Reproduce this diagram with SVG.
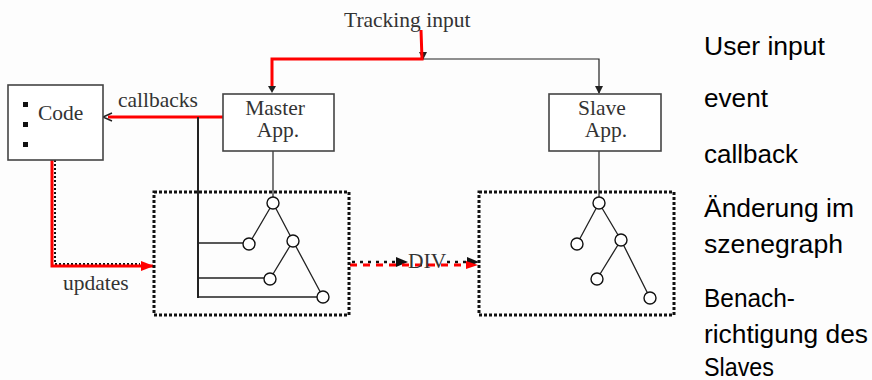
<svg xmlns="http://www.w3.org/2000/svg" width="872" height="380" viewBox="0 0 872 380">
<style>
.ser{font-family:"Liberation Serif","Times New Roman",serif;font-size:21.5px;fill:#333}
.san{font-family:"Liberation Sans",Arial,sans-serif;font-size:25px;fill:#000}
.box{fill:#fff;stroke:#444;stroke-width:1.6}
.dot{fill:none;stroke:#111;stroke-width:3;stroke-dasharray:3 2}
.red{fill:none;stroke:#f00;stroke-width:3}
.blk{fill:none;stroke:#222;stroke-width:1.2}
.thk{fill:none;stroke:#222;stroke-width:2}
.nd{fill:#fff;stroke:#111;stroke-width:1.4}
.tr{fill:none;stroke:#222;stroke-width:1.3}
</style>
<defs>
<marker id="ab" markerWidth="8" markerHeight="8" refX="7" refY="4" orient="auto" markerUnits="userSpaceOnUse"><path d="M0,0 L8,4 L0,8 Z" fill="#222"/></marker>
<marker id="ar" markerWidth="13" markerHeight="10" refX="12" refY="5" orient="auto" markerUnits="userSpaceOnUse"><path d="M0,0 L13,5 L0,10 Z" fill="#f00"/></marker>
</defs>
<rect width="872" height="380" fill="#fdfdfd"/>

<g id="connectors">
  <path class="blk" d="M423,59 H599 V93" marker-end="url(#ab)"/>
  <path class="blk" d="M423,52 V59" marker-end="url(#ab)"/>
  <path class="red" d="M421,30 L422,59 H272 V88"/>
  <path d="M268,86 L276,86 L272,93 Z" fill="#222"/>
  <path class="red" d="M223,117 H108"/>
  <path d="M112,113 L103,117 L112,121" fill="none" stroke="#222" stroke-width="1.5"/>
  <path class="thk" d="M198,117 V298"/>
  <path class="tr" d="M198,243 H243 M198,278 H264 M198,297 H317"/>
  <path class="blk" d="M273,151 V197"/>
  <path class="blk" d="M599,151 V197"/>
  <path fill="none" stroke="#111" stroke-width="2" stroke-dasharray="2 2" d="M55,160 V264 H140"/>
  <path class="red" d="M52,160 V266 H153" marker-end="url(#ar)"/>
  <path fill="none" stroke="#111" stroke-width="2.5" stroke-dasharray="3 5" d="M352,262 H398"/>
  <path d="M396,257 L408,262 L396,267 Z" fill="#111"/>
  <path fill="none" stroke="#111" stroke-width="2.5" stroke-dasharray="3 5" d="M447,262 H470"/>
  <path d="M467,257 L479,262 L467,267 Z" fill="#111"/>
  <path fill="none" stroke="#f00" stroke-width="3" stroke-dasharray="7 6" d="M350,265 H468"/>
  <path d="M466,261 L478,265 L466,269 Z" fill="#f00"/>
  <path class="tr" d="M273,203 L249,244 M273,203 L293,241 M293,241 L270,279 M293,241 L323,297"/>
  <path class="tr" d="M599,203 L577,244 M599,203 L621,240 M621,240 L597,279 M621,240 L650,298"/>
</g>

<g id="tracking-label"><text class="ser" x="344" y="27">Tracking input</text></g>
<g id="callbacks-label"><text class="ser" x="118" y="107">callbacks</text></g>
<g id="updates-label"><text class="ser" x="63" y="290">updates</text></g>
<g id="div-label"><text class="ser" x="408" y="268">DIV</text></g>

<g id="code">
  <rect class="box" x="8" y="85" width="95" height="75"/>
  <rect x="23" y="102" width="5" height="5" fill="#111"/>
  <rect x="23" y="122" width="5" height="5" fill="#111"/>
  <rect x="23" y="142" width="5" height="5" fill="#111"/>
  <text class="ser" x="38" y="120">Code</text>
</g>

<g id="master">
  <rect class="box" x="223" y="94" width="111" height="57"/>
  <text class="ser" x="275" y="115" text-anchor="middle">Master</text>
  <text class="ser" x="278" y="137" text-anchor="middle">App.</text>
</g>

<g id="slave">
  <rect class="box" x="549" y="94" width="112" height="57"/>
  <text class="ser" x="602" y="115" text-anchor="middle">Slave</text>
  <text class="ser" x="606" y="137" text-anchor="middle">App.</text>
</g>

<g id="master-scene">
  <rect class="dot" x="154" y="192" width="195" height="123"/>
  <circle class="nd" cx="273" cy="203" r="6"/>
  <circle class="nd" cx="249" cy="244" r="6"/>
  <circle class="nd" cx="293" cy="241" r="6"/>
  <circle class="nd" cx="270" cy="279" r="6"/>
  <circle class="nd" cx="323" cy="297" r="6"/>
</g>

<g id="slave-scene">
  <rect class="dot" x="479" y="192" width="195" height="123"/>
  <circle class="nd" cx="599" cy="203" r="6"/>
  <circle class="nd" cx="577" cy="244" r="6"/>
  <circle class="nd" cx="621" cy="240" r="6"/>
  <circle class="nd" cx="597" cy="279" r="6"/>
  <circle class="nd" cx="650" cy="298" r="6"/>
</g>

<g id="legend">
  <text class="san" x="704" y="55" textLength="121" lengthAdjust="spacingAndGlyphs">User input</text>
  <text class="san" x="704" y="107" textLength="64" lengthAdjust="spacingAndGlyphs">event</text>
  <text class="san" x="704" y="163" textLength="94" lengthAdjust="spacingAndGlyphs">callback</text>
  <text class="san" x="704" y="217" textLength="150" lengthAdjust="spacingAndGlyphs">Änderung im</text>
  <text class="san" x="704" y="253" textLength="139" lengthAdjust="spacingAndGlyphs">szenegraph</text>
  <text class="san" x="704" y="307" textLength="91" lengthAdjust="spacingAndGlyphs">Benach-</text>
  <text class="san" x="704" y="343" textLength="164" lengthAdjust="spacingAndGlyphs">richtigung des</text>
  <text class="san" x="704" y="376" textLength="70" lengthAdjust="spacingAndGlyphs">Slaves</text>
</g>
</svg>
